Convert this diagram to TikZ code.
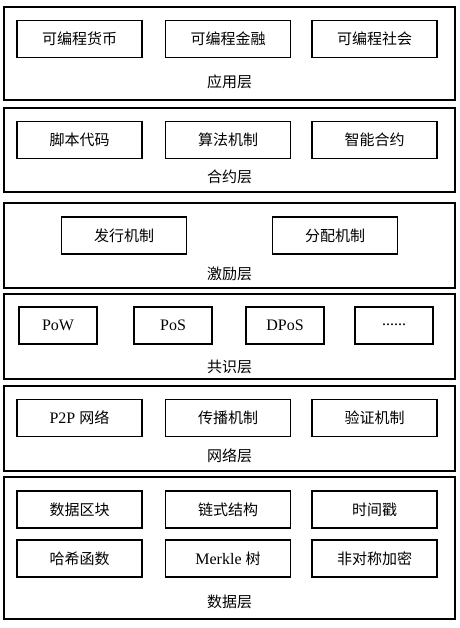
\documentclass[tikz,border=0pt]{standalone}
\usepackage{fontspec}
\setmainfont{Liberation Serif}
\newfontfamily\cjk{Noto Sans CJK SC}
\usetikzlibrary{positioning}

\begin{document}
\begin{tikzpicture}[x=1pt, y=-1pt,
    layer/.style={draw, line width=1.3pt, minimum width=451pt, inner sep=0pt},
    item/.style={draw, line width=1.1pt, minimum width=125pt, minimum height=37pt, inner sep=0pt,
        font=\fontsize{15}{17}\selectfont\cjk},
    smallitem/.style={item, minimum width=78pt, font=\fontsize{16}{18}\selectfont},
    title/.style={font=\fontsize{15}{17}\selectfont\cjk, inner sep=0pt}]

    \useasboundingbox (0,0) rectangle (459,628);

    % application layer
    \node[layer, minimum height=93pt] (app) at (229.5,53.5) {};
    \node[item] (coin) at (79.5,39) {可编程货币};
    \node[item] (fin) at (228,39) {可编程金融};
    \node[item] (soc) at (374.5,39) {可编程社会};
    \node[title] (applabel) at (229.5,82) {应用层};

    % contract layer
    \node[layer, minimum height=84pt] (con) at (229.5,150) {};
    \node[item] (script) at (79.5,140) {脚本代码};
    \node[item] (algo) at (228,140) {算法机制};
    \node[item] (smart) at (374.5,140) {智能合约};
    \node[title] (conlabel) at (229.5,177) {合约层};

    % incentive layer
    \node[layer, minimum height=85pt] (inc) at (229.5,245.5) {};
    \node[item] (issue) at (124,235.5) {发行机制};
    \node[item] (alloc) at (335,235.5) {分配机制};
    \node[title] (inclabel) at (229.5,274) {激励层};

    % consensus layer
    \node[layer, minimum height=85pt] (cons) at (229.5,336.5) {};
    \node[smallitem] (pow) at (58,325.5) {PoW};
    \node[smallitem] (pos) at (173,325.5) {PoS};
    \node[smallitem] (dpos) at (285,325.5) {DPoS};
    \node[smallitem] (more) at (394,325.5) {\raisebox{2pt}{......}};
    \node[title] (conslabel) at (229.5,367) {共识层};

    % network layer
    \node[layer, minimum height=85pt] (net) at (229.5,428.5) {};
    \node[item] (ptp) at (79.5,418) {\rmfamily\fontsize{16}{18}\selectfont P2P \cjk\fontsize{15}{17}\selectfont 网络};
    \node[item] (prop) at (228,418) {传播机制};
    \node[item] (verify) at (374.5,418) {验证机制};
    \node[title] (netlabel) at (229.5,456) {网络层};

    % data layer
    \node[layer, minimum height=142pt] (data) at (229.5,548) {};
    \node[item] (block) at (79.5,509.5) {数据区块};
    \node[item] (chain) at (228,509.5) {链式结构};
    \node[item] (stamp) at (374.5,509.5) {时间戳};
    \node[item] (hash) at (79.5,558.5) {哈希函数};
    \node[item] (merkle) at (228,558.5) {\rmfamily\fontsize{16}{18}\selectfont Merkle \cjk\fontsize{15}{17}\selectfont 树};
    \node[item] (crypt) at (374.5,558.5) {非对称加密};
    \node[title] (datalabel) at (229.5,602) {数据层};

\end{tikzpicture}
\end{document}
